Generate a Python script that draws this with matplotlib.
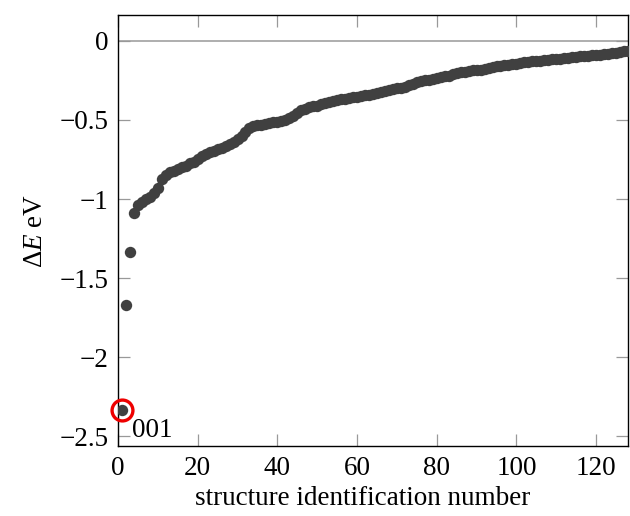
import matplotlib
matplotlib.use("Agg")
import matplotlib.pyplot as plt

plt.rcParams['font.family'] = ['Liberation Serif', 'DejaVu Serif']
plt.rcParams['mathtext.fontset'] = 'custom'
plt.rcParams['mathtext.rm'] = 'Liberation Serif'
plt.rcParams['mathtext.it'] = 'Liberation Serif:italic'

structure_ids = list(range(1, 129))
delta_e = [
    -2.335, -1.67, -1.335, -1.09, -1.04, -1.02, -1.00, -0.985, -0.96, -0.93,
    -0.87, -0.845, -0.83, -0.82, -0.81, -0.80, -0.79, -0.775, -0.765, -0.745,
    -0.725, -0.715, -0.705, -0.695, -0.685, -0.675, -0.665, -0.65, -0.64, -0.62,
    -0.60, -0.575, -0.55, -0.54, -0.535, -0.53, -0.525, -0.52, -0.515, -0.51,
    -0.505, -0.50, -0.49, -0.475, -0.455, -0.44, -0.43, -0.42, -0.415, -0.41,
    -0.40, -0.395, -0.385, -0.38, -0.375, -0.37, -0.365, -0.36, -0.357, -0.353,
    -0.35, -0.345, -0.34, -0.335, -0.33, -0.322, -0.315, -0.31, -0.305, -0.30,
    -0.295, -0.29, -0.28, -0.27, -0.262, -0.255, -0.25, -0.245, -0.24, -0.235,
    -0.23, -0.225, -0.22, -0.212, -0.205, -0.20, -0.195, -0.19, -0.187, -0.185,
    -0.182, -0.178, -0.172, -0.165, -0.162, -0.158, -0.155, -0.152, -0.148, -0.145,
    -0.14, -0.135, -0.132, -0.13, -0.128, -0.125, -0.122, -0.12, -0.118, -0.115,
    -0.113, -0.11, -0.107, -0.104, -0.10, -0.098, -0.096, -0.094, -0.092, -0.09,
    -0.088, -0.085, -0.082, -0.078, -0.075, -0.07, -0.066, -0.062,
]
highlight_index = 0
highlight_label = "001"
x_ticks = [0, 20, 40, 60, 80, 100, 120]
y_ticks = [0, -0.5, -1, -1.5, -2, -2.5]
y_tick_labels = ["0", "\u22120.5", "\u22121", "\u22121.5", "\u22122", "\u22122.5"]

FS = 19.5

fig = plt.figure(figsize=(6.3, 5.16), dpi=100)
ax = fig.add_axes([0.1873, 0.1357, 0.8095, 0.8352])

ax.axhline(0, color='#a8a8a8', lw=1.3, zorder=1)
ax.plot(structure_ids, delta_e, 'o', color='#404040', ms=8.2, mew=0, zorder=3, clip_on=True)
ax.plot([structure_ids[highlight_index]], [delta_e[highlight_index]], 'o', mfc='none',
        mec='#ee0000', mew=2.4, ms=15, zorder=4, clip_on=False)
ax.annotate(highlight_label, (structure_ids[highlight_index], delta_e[highlight_index]),
            xytext=(7, -5.5), textcoords='offset points', ha='left', va='top', fontsize=FS)

ax.set_xlim(0, 128)
ax.set_ylim(-2.56, 0.163)
ax.set_xticks(x_ticks)
ax.set_yticks(y_ticks)
ax.set_yticklabels(y_tick_labels)
ax.tick_params(direction='in', length=8.5, width=0.9, color='#999999', labelsize=FS,
               top=True, right=True, pad=7)
for s in ax.spines.values():
    s.set_linewidth(1.0)
    s.set_color('black')

ax.set_xlabel('structure identification number', fontsize=FS)
ax.xaxis.set_label_coords(0.48, -0.092)
ax.set_ylabel(r'$\Delta E$ eV', fontsize=FS, labelpad=8)

fig.savefig('out.png', dpi=100)
